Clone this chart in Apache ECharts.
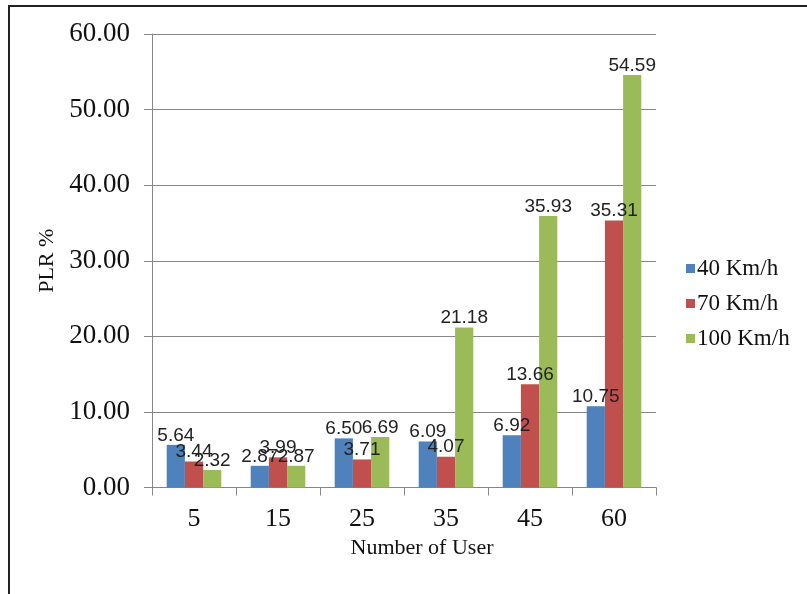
<!DOCTYPE html>
<html>
<head>
<meta charset="utf-8">
<script src="https://cdn.jsdelivr.net/npm/echarts@6/dist/echarts.min.js"></script>
<style>html,body{margin:0;padding:0;background:#fff;}#chart{width:807px;height:594px;}</style>
</head>
<body>
<div id="chart"></div>
<script>
var categories = ['5', '15', '25', '35', '45', '60'];
var seriesNames = ['40 Km/h', '70 Km/h', '100 Km/h'];
var speed40 = [5.64, 2.87, 6.50, 6.09, 6.92, 10.75];
var speed70 = [3.44, 3.99, 3.71, 4.07, 13.66, 35.31];
var speed100 = [2.32, 2.87, 6.69, 21.18, 35.93, 54.59];
var colors = ['#4F81BD', '#C0504D', '#9BBB59'];

var serif = '"Liberation Serif", "Times New Roman", serif';
var chart = echarts.init(document.getElementById('chart'));
var dataSets = [speed40, speed70, speed100];
var series = dataSets.map(function (d, i) {
  return {
    name: seriesNames[i],
    type: 'bar',
    data: d,
    barGap: '0%',
    barCategoryGap: '35%',
    itemStyle: { color: colors[i] },
    label: {
      show: true,
      position: 'top',
      distance: 0,
      formatter: function (p) { return p.value.toFixed(2); },
      fontFamily: '"Liberation Sans", Arial, sans-serif',
      fontSize: 19,
      color: '#222'
    }
  };
});
chart.setOption({
  animation: false,
  backgroundColor: '#fff',
  graphic: [{
    type: 'rect',
    shape: { x: 9, y: 6, width: 900, height: 700 },
    style: { fill: 'none', stroke: '#222', lineWidth: 2 },
    silent: true
  }],
  grid: { left: 152, right: 151, top: 34, bottom: 106.5 },
  legend: {
    orient: 'vertical',
    left: 681,
    top: 252,
    itemWidth: 9,
    itemHeight: 9,
    itemGap: 12,
    icon: 'rect',
    textStyle: { fontFamily: serif, fontSize: 23, color: '#111', padding: [0, 0, 0, -3] },
    data: seriesNames
  },
  xAxis: {
    type: 'category',
    data: categories,
    name: 'Number of User',
    nameLocation: 'middle',
    nameGap: 48,
    nameTextStyle: { fontFamily: serif, fontSize: 22, color: '#111', padding: [0, 0, 0, 36] },
    axisLine: { lineStyle: { color: '#868686', width: 1 } },
    axisTick: { show: true, length: 8, lineStyle: { color: '#868686' } },
    axisLabel: { fontFamily: serif, fontSize: 26, color: '#111', margin: 19 },
    splitLine: { show: false }
  },
  yAxis: {
    type: 'value',
    min: 0,
    max: 60,
    interval: 10,
    name: 'PLR %',
    nameLocation: 'middle',
    nameRotate: 90,
    nameGap: 86,
    nameTextStyle: { fontFamily: serif, fontSize: 22, color: '#111' },
    axisLine: { show: true, lineStyle: { color: '#868686', width: 1 } },
    axisTick: { show: true, length: 8, lineStyle: { color: '#868686' } },
    axisLabel: { fontFamily: serif, fontSize: 27, color: '#111', margin: 22,
      formatter: function (v) { return v.toFixed(2); } },
    splitLine: { show: true, lineStyle: { color: '#868686', width: 1 } }
  },
  series: series
});
</script>
</body>
</html>
